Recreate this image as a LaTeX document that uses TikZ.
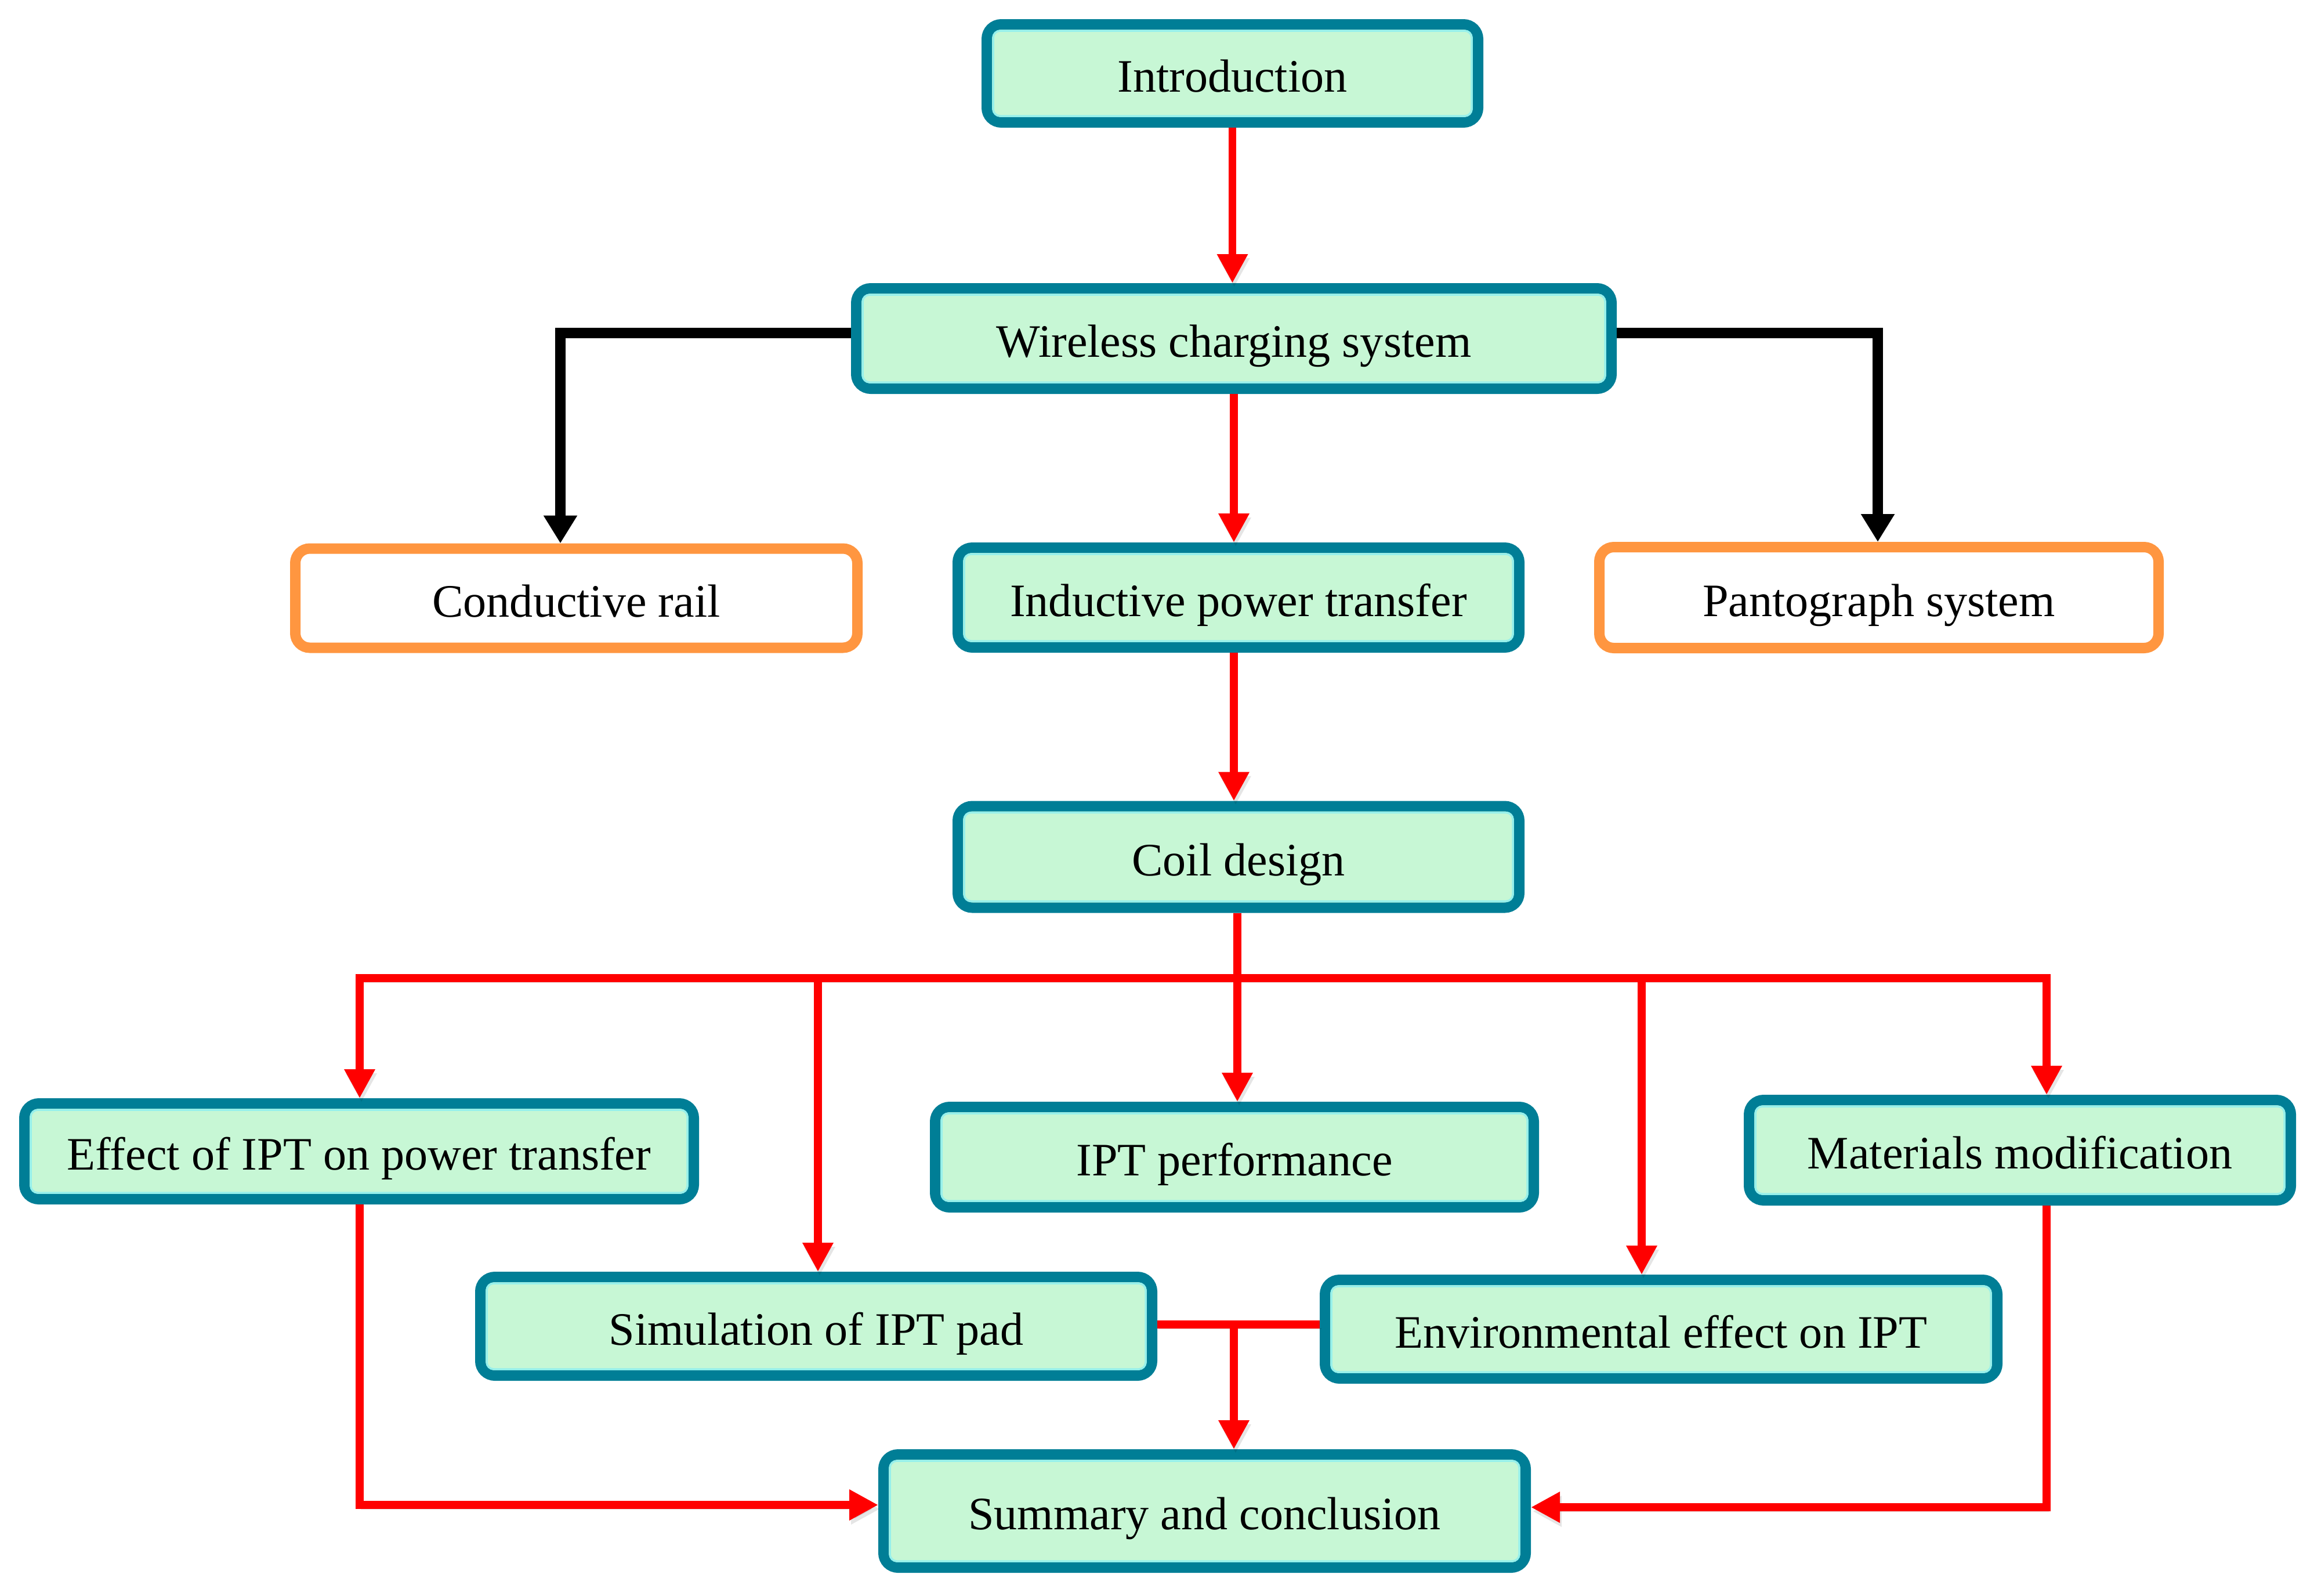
\documentclass[tikz,border=0pt]{standalone}
\usepackage{fontspec}
\setmainfont{Liberation Serif}
\usetikzlibrary{arrows.meta}
\definecolor{tealb}{RGB}{0,126,150}
\definecolor{boxfill}{RGB}{199,247,213}
\definecolor{innerl}{RGB}{150,240,235}
\definecolor{orangeb}{RGB}{255,150,64}
\definecolor{redl}{RGB}{255,0,0}
\tikzset{
  box/.style={rounded corners=0.25cm, line width=0.18cm, inner sep=0pt,
    font=\fontsize{22.8pt}{27pt}\selectfont, text height=0.78cm, text depth=0.14cm},
  gbox/.style={box, draw=tealb, fill=boxfill},
  obox/.style={box, draw=orangeb, fill=white},
  shadowed/.style={preaction={draw=black, draw opacity=0.10, fill opacity=0.10,
    transform canvas={shift={(0.03cm,-0.07cm)}}}},
  rl/.style={draw=redl, line width=0.135cm, line join=miter, shadowed},
  bl/.style={draw=black, line width=0.175cm, line join=miter},
  rtip/.style={-{Triangle[length=0.5cm,width=0.5cm]}},
  btip/.style={-{Triangle[length=0.48cm,width=0.55cm]}},
  innerline/.style={draw=innerl, line width=0.035cm, rounded corners=0.12cm},
}
\begin{document}
\begin{tikzpicture}[y=-1cm]
\useasboundingbox (0,0) rectangle (39.89,27.50);
% nodes
\node[gbox, minimum width=8.47cm, minimum height=1.69cm] (intro) at (21.245,1.265) {Introduction};
\node[gbox, minimum width=13.02cm, minimum height=1.73cm] (wcs) at (21.27,5.835) {Wireless charging system};
\node[obox, minimum width=9.69cm, minimum height=1.71cm] (cond) at (9.935,10.31) {Conductive rail};
\node[gbox, minimum width=9.68cm, minimum height=1.72cm] (ipt) at (21.35,10.30) {Inductive power transfer};
\node[obox, minimum width=9.64cm, minimum height=1.74cm] (panto) at (32.39,10.30) {Pantograph system};
\node[gbox, minimum width=9.68cm, minimum height=1.75cm] (coil) at (21.35,14.77) {Coil design};
\node[gbox, minimum width=11.54cm, minimum height=1.65cm] (effect) at (6.19,19.845) {Effect of IPT on power transfer};
\node[gbox, minimum width=10.32cm, minimum height=1.73cm] (perf) at (21.28,19.945) {IPT performance};
\node[gbox, minimum width=9.34cm, minimum height=1.73cm] (mat) at (34.82,19.825) {Materials modification};
\node[gbox, minimum width=11.58cm, minimum height=1.70cm] (sim) at (14.07,22.86) {Simulation of IPT pad};
\node[gbox, minimum width=11.59cm, minimum height=1.70cm] (env) at (28.635,22.91) {Environmental effect on IPT};
\node[gbox, minimum width=11.07cm, minimum height=1.95cm] (sum) at (20.765,26.045) {Summary and conclusion};
% inner highlight lines of the teal boxes
\foreach \n in {intro,wcs,ipt,coil,effect,perf,mat,sim,env,sum}{
  \draw[innerline] ([xshift=0.2cm,yshift=0.2cm]\n.south west) rectangle ([xshift=-0.2cm,yshift=-0.2cm]\n.north east);
}
% coordinates
\coordinate (cL) at (9.66,5.74);
\coordinate (cR) at (32.37,5.74);
\coordinate (b1) at (6.20,16.86);
\coordinate (b2) at (14.10,16.86);
\coordinate (b3) at (21.33,16.86);
\coordinate (b4) at (28.30,16.86);
\coordinate (b5) at (35.28,16.86);
\coordinate (j) at (21.27,22.83);
\coordinate (lc) at (6.20,25.94);
\coordinate (rc) at (35.28,25.98);
% connectors
\draw[rl,rtip] (intro.south) -- (intro.south |- wcs.north);
\draw[bl,btip] (wcs.west |- cL) -- (cL) -- (cL |- cond.north);
\draw[bl,btip] (wcs.east |- cR) -- (cR) -- (cR |- panto.north);
\draw[rl,rtip] (wcs.south) -- (wcs.south |- ipt.north);
\draw[rl,rtip] (ipt.south -| wcs.south) -- (wcs.south |- coil.north);
\draw[rl] (coil.south -| b3) -- (b3);
\draw[rl,rtip] (b3) -- (b1) -- (b1 |- effect.north);
\draw[rl,rtip] (b3) -- (b5) -- (b5 |- mat.north);
\draw[rl,rtip] (b2) -- (b2 |- sim.north);
\draw[rl,rtip] (b3) -- (b3 |- perf.north);
\draw[rl,rtip] (b4) -- (b4 |- env.north);
\draw[rl] (sim.east |- j) -- (env.west |- j);
\draw[rl,rtip] (j) -- (j |- sum.north);
\draw[rl,rtip] (effect.south -| lc) -- (lc) -- (lc -| sum.west);
\draw[rl,rtip] (mat.south -| rc) -- (rc) -- (rc -| sum.east);
\end{tikzpicture}
\end{document}
